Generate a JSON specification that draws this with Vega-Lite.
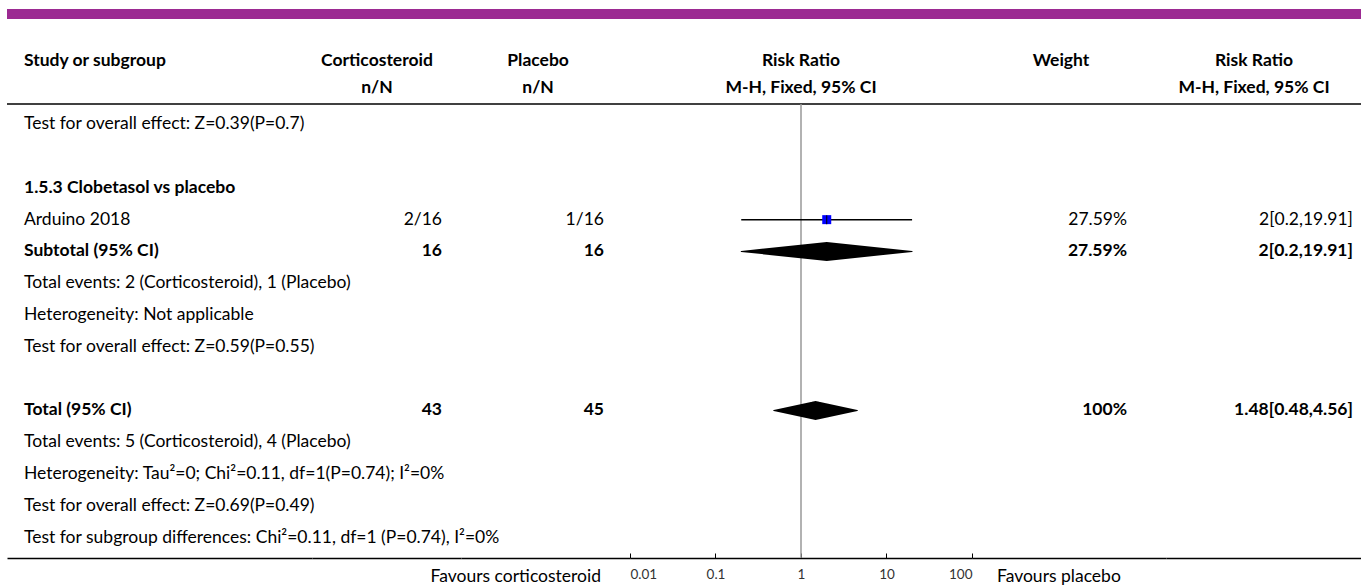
{
  "$schema": "https://vega.github.io/schema/vega-lite/v6.json",
  "padding": {"left": 6, "top": 9, "right": 0, "bottom": 0},
  "bounds": "flush",
  "spacing": 0,
  "config": {
    "view": {"stroke": null},
    "text": {"font": "Lato", "fontSize": 17.5, "color": "#000", "baseline": "middle"}
  },
  "datasets": {
    "rows": [
      {"row": 0, "type": "note", "study": "Test for overall effect: Z=0.39(P=0.7)"},
      {"row": 2, "type": "heading", "study": "1.5.3 Clobetasol vs placebo"},
      {"row": 3, "type": "study", "study": "Arduino 2018", "cortico": "2/16", "placebo": "1/16", "weight": "27.59%", "ci": "2[0.2,19.91]", "rr": 2, "lo": 0.2, "hi": 19.91},
      {"row": 4, "type": "pooled", "study": "Subtotal (95% CI)", "cortico": "16", "placebo": "16", "weight": "27.59%", "ci": "2[0.2,19.91]", "rr": 2, "lo": 0.2, "hi": 19.91},
      {"row": 5, "type": "note", "study": "Total events: 2 (Corticosteroid), 1 (Placebo)"},
      {"row": 6, "type": "note", "study": "Heterogeneity: Not applicable"},
      {"row": 7, "type": "note", "study": "Test for overall effect: Z=0.59(P=0.55)"},
      {"row": 9, "type": "pooled", "study": "Total (95% CI)", "cortico": "43", "placebo": "45", "weight": "100%", "ci": "1.48[0.48,4.56]", "rr": 1.48, "lo": 0.48, "hi": 4.56},
      {"row": 10, "type": "note", "study": "Total events: 5 (Corticosteroid), 4 (Placebo)"},
      {"row": 11, "type": "note", "study": "Heterogeneity: Tau²=0; Chi²=0.11, df=1(P=0.74); I²=0%"},
      {"row": 12, "type": "note", "study": "Test for overall effect: Z=0.69(P=0.49)"},
      {"row": 13, "type": "note", "study": "Test for subgroup differences: Chi²=0.11, df=1 (P=0.74), I²=0%"}
    ],
    "head": [
      {"row": -2, "col": "study", "label": "Study or subgroup"},
      {"row": -2, "col": "cortico", "label": "Corticosteroid"},
      {"row": -1.15, "col": "cortico", "label": "n/N"},
      {"row": -2, "col": "placebo", "label": "Placebo"},
      {"row": -1.15, "col": "placebo", "label": "n/N"},
      {"row": -2, "col": "plot", "label": "Risk Ratio"},
      {"row": -1.15, "col": "plot", "label": "M-H, Fixed, 95% CI"},
      {"row": -2, "col": "weight", "label": "Weight"},
      {"row": -2, "col": "ci", "label": "Risk Ratio"},
      {"row": -1.15, "col": "ci", "label": "M-H, Fixed, 95% CI"}
    ]
  },
  "hconcat": [
    {
      "width": 305, "height": 549,
      "layer": [
        {"data": {"values": [{}]}, "mark": {"type": "rect", "color": "#9c2a92"},
         "encoding": {"x": {"datum": 0, "type": "quantitative", "scale": {"domain": [0, 1], "nice": false, "zero": false}, "axis": {"labels": false, "ticks": false, "grid": false, "title": null, "domainColor": "#000", "domainWidth": 1.5}}, "x2": {"datum": 1},
                      "y": {"datum": -3.622, "type": "quantitative", "scale": {"domain": [-3.622, 13.637], "reverse": true, "nice": false, "zero": false}, "axis": null}, "y2": {"datum": -3.307}}},
        {"data": {"values": [{}]}, "mark": {"type": "rule", "color": "#000", "strokeWidth": 1.5},
         "encoding": {"y": {"datum": -0.635, "type": "quantitative", "scale": {"domain": [-3.622, 13.637], "reverse": true, "nice": false, "zero": false}, "axis": null}}},
        {"data": {"name": "head"}, "transform": [{"filter": "datum.col === 'study'"}],
         "mark": {"type": "text", "align": "left", "fontWeight": "bold"},
         "encoding": {"x": {"datum": 0.0557, "type": "quantitative", "scale": {"domain": [0, 1], "nice": false, "zero": false}, "axis": {"labels": false, "ticks": false, "grid": false, "title": null, "domainColor": "#000", "domainWidth": 1.5}},
                      "y": {"field": "row", "type": "quantitative", "scale": {"domain": [-3.622, 13.637], "reverse": true, "nice": false, "zero": false}, "axis": null},
                      "text": {"field": "label"}}},
        {"data": {"name": "rows"}, "transform": [{"filter": "datum.type === 'note' || datum.type === 'study'"}],
         "mark": {"type": "text", "align": "left"},
         "encoding": {"x": {"datum": 0.0557, "type": "quantitative", "scale": {"domain": [0, 1], "nice": false, "zero": false}, "axis": {"labels": false, "ticks": false, "grid": false, "title": null, "domainColor": "#000", "domainWidth": 1.5}},
                      "y": {"field": "row", "type": "quantitative", "scale": {"domain": [-3.622, 13.637], "reverse": true, "nice": false, "zero": false}, "axis": null},
                      "text": {"field": "study"}}},
        {"data": {"name": "rows"}, "transform": [{"filter": "datum.type === 'heading' || datum.type === 'pooled'"}],
         "mark": {"type": "text", "align": "left", "fontWeight": "bold"},
         "encoding": {"x": {"datum": 0.0557, "type": "quantitative", "scale": {"domain": [0, 1], "nice": false, "zero": false}, "axis": {"labels": false, "ticks": false, "grid": false, "title": null, "domainColor": "#000", "domainWidth": 1.5}},
                      "y": {"field": "row", "type": "quantitative", "scale": {"domain": [-3.622, 13.637], "reverse": true, "nice": false, "zero": false}, "axis": null},
                      "text": {"field": "study"}}}
      ]
    },
    {
      "width": 149, "height": 549,
      "layer": [
        {"data": {"values": [{}]}, "mark": {"type": "rect", "color": "#9c2a92"},
         "encoding": {"x": {"datum": 0, "type": "quantitative", "scale": {"domain": [0, 1], "nice": false, "zero": false}, "axis": {"labels": false, "ticks": false, "grid": false, "title": null, "domainColor": "#000", "domainWidth": 1.5}}, "x2": {"datum": 1},
                      "y": {"datum": -3.622, "type": "quantitative", "scale": {"domain": [-3.622, 13.637], "reverse": true, "nice": false, "zero": false}, "axis": null}, "y2": {"datum": -3.307}}},
        {"data": {"values": [{}]}, "mark": {"type": "rule", "color": "#000", "strokeWidth": 1.5},
         "encoding": {"y": {"datum": -0.635, "type": "quantitative", "scale": {"domain": [-3.622, 13.637], "reverse": true, "nice": false, "zero": false}, "axis": null}}},
        {"data": {"name": "head"}, "transform": [{"filter": "datum.col === 'cortico'"}],
         "mark": {"type": "text", "align": "center", "fontWeight": "bold"},
         "encoding": {"x": {"datum": 0.4362, "type": "quantitative", "scale": {"domain": [0, 1], "nice": false, "zero": false}, "axis": {"labels": false, "ticks": false, "grid": false, "title": null, "domainColor": "#000", "domainWidth": 1.5}},
                      "y": {"field": "row", "type": "quantitative", "scale": {"domain": [-3.622, 13.637], "reverse": true, "nice": false, "zero": false}, "axis": null},
                      "text": {"field": "label"}}},
        {"data": {"name": "rows"}, "transform": [{"filter": "datum.type === 'study'"}],
         "mark": {"type": "text", "align": "right"},
         "encoding": {"x": {"datum": 0.8725, "type": "quantitative", "scale": {"domain": [0, 1], "nice": false, "zero": false}, "axis": {"labels": false, "ticks": false, "grid": false, "title": null, "domainColor": "#000", "domainWidth": 1.5}},
                      "y": {"field": "row", "type": "quantitative", "scale": {"domain": [-3.622, 13.637], "reverse": true, "nice": false, "zero": false}, "axis": null},
                      "text": {"field": "cortico"}}},
        {"data": {"name": "rows"}, "transform": [{"filter": "datum.type === 'pooled'"}],
         "mark": {"type": "text", "align": "right", "fontWeight": "bold"},
         "encoding": {"x": {"datum": 0.8725, "type": "quantitative", "scale": {"domain": [0, 1], "nice": false, "zero": false}, "axis": {"labels": false, "ticks": false, "grid": false, "title": null, "domainColor": "#000", "domainWidth": 1.5}},
                      "y": {"field": "row", "type": "quantitative", "scale": {"domain": [-3.622, 13.637], "reverse": true, "nice": false, "zero": false}, "axis": null},
                      "text": {"field": "cortico"}}}
      ]
    },
    {
      "width": 169, "height": 549,
      "layer": [
        {"data": {"values": [{}]}, "mark": {"type": "rect", "color": "#9c2a92"},
         "encoding": {"x": {"datum": 0, "type": "quantitative", "scale": {"domain": [0, 1], "nice": false, "zero": false}, "axis": {"labels": false, "ticks": false, "grid": false, "title": null, "domainColor": "#000", "domainWidth": 1.5}}, "x2": {"datum": 1},
                      "y": {"datum": -3.622, "type": "quantitative", "scale": {"domain": [-3.622, 13.637], "reverse": true, "nice": false, "zero": false}, "axis": null}, "y2": {"datum": -3.307}}},
        {"data": {"values": [{}]}, "mark": {"type": "rule", "color": "#000", "strokeWidth": 1.5},
         "encoding": {"y": {"datum": -0.635, "type": "quantitative", "scale": {"domain": [-3.622, 13.637], "reverse": true, "nice": false, "zero": false}, "axis": null}}},
        {"data": {"name": "head"}, "transform": [{"filter": "datum.col === 'placebo'"}],
         "mark": {"type": "text", "align": "center", "fontWeight": "bold"},
         "encoding": {"x": {"datum": 0.456, "type": "quantitative", "scale": {"domain": [0, 1], "nice": false, "zero": false}, "axis": {"labels": false, "ticks": false, "grid": false, "title": null, "domainColor": "#000", "domainWidth": 1.5}},
                      "y": {"field": "row", "type": "quantitative", "scale": {"domain": [-3.622, 13.637], "reverse": true, "nice": false, "zero": false}, "axis": null},
                      "text": {"field": "label"}}},
        {"data": {"name": "rows"}, "transform": [{"filter": "datum.type === 'study'"}],
         "mark": {"type": "text", "align": "right"},
         "encoding": {"x": {"datum": 0.846, "type": "quantitative", "scale": {"domain": [0, 1], "nice": false, "zero": false}, "axis": {"labels": false, "ticks": false, "grid": false, "title": null, "domainColor": "#000", "domainWidth": 1.5}},
                      "y": {"field": "row", "type": "quantitative", "scale": {"domain": [-3.622, 13.637], "reverse": true, "nice": false, "zero": false}, "axis": null},
                      "text": {"field": "placebo"}}},
        {"data": {"name": "rows"}, "transform": [{"filter": "datum.type === 'pooled'"}],
         "mark": {"type": "text", "align": "right", "fontWeight": "bold"},
         "encoding": {"x": {"datum": 0.846, "type": "quantitative", "scale": {"domain": [0, 1], "nice": false, "zero": false}, "axis": {"labels": false, "ticks": false, "grid": false, "title": null, "domainColor": "#000", "domainWidth": 1.5}},
                      "y": {"field": "row", "type": "quantitative", "scale": {"domain": [-3.622, 13.637], "reverse": true, "nice": false, "zero": false}, "axis": null},
                      "text": {"field": "placebo"}}}
      ]
    },
    {
      "width": 342, "height": 549,
      "layer": [
        {"data": {"values": [{}]}, "mark": {"type": "rect", "color": "#9c2a92"},
         "encoding": {"x": {"datum": 0.01, "type": "quantitative", "scale": {"type": "log", "domain": [0.01, 100], "nice": false}, "axis": {"values": [0.01, 0.1, 1, 10, 100], "format": "~g", "labelFlush": true, "tickSize": -5, "labelPadding": 14, "tickColor": "#000", "domainColor": "#000", "domainWidth": 1.5, "labelFont": "Lato", "labelFontSize": 13.5, "labelColor": "#333", "grid": false, "title": null}}, "x2": {"datum": 100},
                      "y": {"datum": -3.622, "type": "quantitative", "scale": {"domain": [-3.622, 13.637], "reverse": true, "nice": false, "zero": false}, "axis": null}, "y2": {"datum": -3.307}}},
        {"data": {"values": [{}]}, "mark": {"type": "rule", "color": "#000", "strokeWidth": 1.5},
         "encoding": {"y": {"datum": -0.635, "type": "quantitative", "scale": {"domain": [-3.622, 13.637], "reverse": true, "nice": false, "zero": false}, "axis": null}}},
        {"data": {"values": [{}]}, "mark": {"type": "rule", "color": "#999", "strokeWidth": 1.5},
         "encoding": {"x": {"datum": 1, "type": "quantitative", "scale": {"type": "log", "domain": [0.01, 100], "nice": false}, "axis": {"values": [0.01, 0.1, 1, 10, 100], "format": "~g", "labelFlush": true, "tickSize": -5, "labelPadding": 14, "tickColor": "#000", "domainColor": "#000", "domainWidth": 1.5, "labelFont": "Lato", "labelFontSize": 13.5, "labelColor": "#333", "grid": false, "title": null}},
                      "y": {"datum": -0.635, "type": "quantitative", "scale": {"domain": [-3.622, 13.637], "reverse": true, "nice": false, "zero": false}, "axis": null}, "y2": {"datum": 13.637}}},
        {"data": {"name": "rows"}, "transform": [{"filter": "datum.type === 'study'"}],
         "mark": {"type": "rule", "color": "#000", "strokeWidth": 1.5},
         "encoding": {"x": {"field": "lo", "type": "quantitative", "scale": {"type": "log", "domain": [0.01, 100], "nice": false}, "axis": {"values": [0.01, 0.1, 1, 10, 100], "format": "~g", "labelFlush": true, "tickSize": -5, "labelPadding": 14, "tickColor": "#000", "domainColor": "#000", "domainWidth": 1.5, "labelFont": "Lato", "labelFontSize": 13.5, "labelColor": "#333", "grid": false, "title": null}}, "x2": {"field": "hi"},
                      "y": {"field": "row", "type": "quantitative", "scale": {"domain": [-3.622, 13.637], "reverse": true, "nice": false, "zero": false}, "axis": null}}},
        {"data": {"name": "rows"}, "transform": [{"filter": "datum.type === 'study'"}],
         "mark": {"type": "point", "shape": "square", "filled": true, "color": "#0000ff", "opacity": 1, "size": 81},
         "encoding": {"x": {"field": "rr", "type": "quantitative", "scale": {"type": "log", "domain": [0.01, 100], "nice": false}, "axis": {"values": [0.01, 0.1, 1, 10, 100], "format": "~g", "labelFlush": true, "tickSize": -5, "labelPadding": 14, "tickColor": "#000", "domainColor": "#000", "domainWidth": 1.5, "labelFont": "Lato", "labelFontSize": 13.5, "labelColor": "#333", "grid": false, "title": null}},
                      "y": {"field": "row", "type": "quantitative", "scale": {"domain": [-3.622, 13.637], "reverse": true, "nice": false, "zero": false}, "axis": null}}},
        {"data": {"name": "rows"}, "transform": [{"filter": "datum.type === 'study'"}],
         "mark": {"type": "tick", "orient": "vertical", "color": "#000", "size": 9, "thickness": 1, "opacity": 1},
         "encoding": {"x": {"field": "rr", "type": "quantitative", "scale": {"type": "log", "domain": [0.01, 100], "nice": false}, "axis": {"values": [0.01, 0.1, 1, 10, 100], "format": "~g", "labelFlush": true, "tickSize": -5, "labelPadding": 14, "tickColor": "#000", "domainColor": "#000", "domainWidth": 1.5, "labelFont": "Lato", "labelFontSize": 13.5, "labelColor": "#333", "grid": false, "title": null}},
                      "y": {"field": "row", "type": "quantitative", "scale": {"domain": [-3.622, 13.637], "reverse": true, "nice": false, "zero": false}, "axis": null}}},
        {"data": {"name": "rows"}, "transform": [{"filter": "datum.type === 'pooled'"}, {"fold": ["lo", "rr", "hi"], "as": ["pt", "val"]}],
         "mark": {"type": "trail", "color": "#000"},
         "encoding": {"x": {"field": "val", "type": "quantitative", "scale": {"type": "log", "domain": [0.01, 100], "nice": false}, "axis": {"values": [0.01, 0.1, 1, 10, 100], "format": "~g", "labelFlush": true, "tickSize": -5, "labelPadding": 14, "tickColor": "#000", "domainColor": "#000", "domainWidth": 1.5, "labelFont": "Lato", "labelFontSize": 13.5, "labelColor": "#333", "grid": false, "title": null}},
                      "y": {"field": "row", "type": "quantitative", "scale": {"domain": [-3.622, 13.637], "reverse": true, "nice": false, "zero": false}, "axis": null},
                      "detail": {"field": "row", "type": "nominal"},
                      "size": {"condition": {"test": "datum.pt === 'rr'", "value": 19}, "value": 0}}},
        {"data": {"name": "head"}, "transform": [{"filter": "datum.col === 'plot'"}],
         "mark": {"type": "text", "align": "center", "fontWeight": "bold"},
         "encoding": {"x": {"datum": 1, "type": "quantitative", "scale": {"type": "log", "domain": [0.01, 100], "nice": false}, "axis": {"values": [0.01, 0.1, 1, 10, 100], "format": "~g", "labelFlush": true, "tickSize": -5, "labelPadding": 14, "tickColor": "#000", "domainColor": "#000", "domainWidth": 1.5, "labelFont": "Lato", "labelFontSize": 13.5, "labelColor": "#333", "grid": false, "title": null}},
                      "y": {"field": "row", "type": "quantitative", "scale": {"domain": [-3.622, 13.637], "reverse": true, "nice": false, "zero": false}, "axis": null},
                      "text": {"field": "label"}}},
        {"data": {"values": [{"label": "Favours corticosteroid"}]},
         "mark": {"type": "text", "align": "right", "dx": -29},
         "encoding": {"x": {"datum": 0.01, "type": "quantitative", "scale": {"type": "log", "domain": [0.01, 100], "nice": false}, "axis": {"values": [0.01, 0.1, 1, 10, 100], "format": "~g", "labelFlush": true, "tickSize": -5, "labelPadding": 14, "tickColor": "#000", "domainColor": "#000", "domainWidth": 1.5, "labelFont": "Lato", "labelFontSize": 13.5, "labelColor": "#333", "grid": false, "title": null}},
                      "y": {"datum": 14.23, "type": "quantitative", "scale": {"domain": [-3.622, 13.637], "reverse": true, "nice": false, "zero": false}, "axis": null},
                      "text": {"field": "label"}}},
        {"data": {"values": [{"label": "Favours placebo"}]},
         "mark": {"type": "text", "align": "left", "dx": 25},
         "encoding": {"x": {"datum": 100, "type": "quantitative", "scale": {"type": "log", "domain": [0.01, 100], "nice": false}, "axis": {"values": [0.01, 0.1, 1, 10, 100], "format": "~g", "labelFlush": true, "tickSize": -5, "labelPadding": 14, "tickColor": "#000", "domainColor": "#000", "domainWidth": 1.5, "labelFont": "Lato", "labelFontSize": 13.5, "labelColor": "#333", "grid": false, "title": null}},
                      "y": {"datum": 14.23, "type": "quantitative", "scale": {"domain": [-3.622, 13.637], "reverse": true, "nice": false, "zero": false}, "axis": null},
                      "text": {"field": "label"}}}
      ]
    },
    {
      "width": 194, "height": 549,
      "layer": [
        {"data": {"values": [{}]}, "mark": {"type": "rect", "color": "#9c2a92"},
         "encoding": {"x": {"datum": 0, "type": "quantitative", "scale": {"domain": [0, 1], "nice": false, "zero": false}, "axis": {"labels": false, "ticks": false, "grid": false, "title": null, "domainColor": "#000", "domainWidth": 1.5}}, "x2": {"datum": 1},
                      "y": {"datum": -3.622, "type": "quantitative", "scale": {"domain": [-3.622, 13.637], "reverse": true, "nice": false, "zero": false}, "axis": null}, "y2": {"datum": -3.307}}},
        {"data": {"values": [{}]}, "mark": {"type": "rule", "color": "#000", "strokeWidth": 1.5},
         "encoding": {"y": {"datum": -0.635, "type": "quantitative", "scale": {"domain": [-3.622, 13.637], "reverse": true, "nice": false, "zero": false}, "axis": null}}},
        {"data": {"name": "head"}, "transform": [{"filter": "datum.col === 'weight'"}],
         "mark": {"type": "text", "align": "center", "fontWeight": "bold"},
         "encoding": {"x": {"datum": 0.459, "type": "quantitative", "scale": {"domain": [0, 1], "nice": false, "zero": false}, "axis": {"labels": false, "ticks": false, "grid": false, "title": null, "domainColor": "#000", "domainWidth": 1.5}},
                      "y": {"field": "row", "type": "quantitative", "scale": {"domain": [-3.622, 13.637], "reverse": true, "nice": false, "zero": false}, "axis": null},
                      "text": {"field": "label"}}},
        {"data": {"name": "rows"}, "transform": [{"filter": "datum.type === 'study'"}],
         "mark": {"type": "text", "align": "right"},
         "encoding": {"x": {"datum": 0.799, "type": "quantitative", "scale": {"domain": [0, 1], "nice": false, "zero": false}, "axis": {"labels": false, "ticks": false, "grid": false, "title": null, "domainColor": "#000", "domainWidth": 1.5}},
                      "y": {"field": "row", "type": "quantitative", "scale": {"domain": [-3.622, 13.637], "reverse": true, "nice": false, "zero": false}, "axis": null},
                      "text": {"field": "weight"}}},
        {"data": {"name": "rows"}, "transform": [{"filter": "datum.type === 'pooled'"}],
         "mark": {"type": "text", "align": "right", "fontWeight": "bold"},
         "encoding": {"x": {"datum": 0.799, "type": "quantitative", "scale": {"domain": [0, 1], "nice": false, "zero": false}, "axis": {"labels": false, "ticks": false, "grid": false, "title": null, "domainColor": "#000", "domainWidth": 1.5}},
                      "y": {"field": "row", "type": "quantitative", "scale": {"domain": [-3.622, 13.637], "reverse": true, "nice": false, "zero": false}, "axis": null},
                      "text": {"field": "weight"}}}
      ]
    },
    {
      "width": 196, "height": 549,
      "layer": [
        {"data": {"values": [{}]}, "mark": {"type": "rect", "color": "#9c2a92"},
         "encoding": {"x": {"datum": 0, "type": "quantitative", "scale": {"domain": [0, 1], "nice": false, "zero": false}, "axis": {"labels": false, "ticks": false, "grid": false, "title": null, "domainColor": "#000", "domainWidth": 1.5}}, "x2": {"datum": 1},
                      "y": {"datum": -3.622, "type": "quantitative", "scale": {"domain": [-3.622, 13.637], "reverse": true, "nice": false, "zero": false}, "axis": null}, "y2": {"datum": -3.307}}},
        {"data": {"values": [{}]}, "mark": {"type": "rule", "color": "#000", "strokeWidth": 1.5},
         "encoding": {"y": {"datum": -0.635, "type": "quantitative", "scale": {"domain": [-3.622, 13.637], "reverse": true, "nice": false, "zero": false}, "axis": null}}},
        {"data": {"name": "head"}, "transform": [{"filter": "datum.col === 'ci'"}],
         "mark": {"type": "text", "align": "center", "fontWeight": "bold"},
         "encoding": {"x": {"datum": 0.449, "type": "quantitative", "scale": {"domain": [0, 1], "nice": false, "zero": false}, "axis": {"labels": false, "ticks": false, "grid": false, "title": null, "domainColor": "#000", "domainWidth": 1.5}},
                      "y": {"field": "row", "type": "quantitative", "scale": {"domain": [-3.622, 13.637], "reverse": true, "nice": false, "zero": false}, "axis": null},
                      "text": {"field": "label"}}},
        {"data": {"name": "rows"}, "transform": [{"filter": "datum.type === 'study'"}],
         "mark": {"type": "text", "align": "right"},
         "encoding": {"x": {"datum": 0.954, "type": "quantitative", "scale": {"domain": [0, 1], "nice": false, "zero": false}, "axis": {"labels": false, "ticks": false, "grid": false, "title": null, "domainColor": "#000", "domainWidth": 1.5}},
                      "y": {"field": "row", "type": "quantitative", "scale": {"domain": [-3.622, 13.637], "reverse": true, "nice": false, "zero": false}, "axis": null},
                      "text": {"field": "ci"}}},
        {"data": {"name": "rows"}, "transform": [{"filter": "datum.type === 'pooled'"}],
         "mark": {"type": "text", "align": "right", "fontWeight": "bold"},
         "encoding": {"x": {"datum": 0.954, "type": "quantitative", "scale": {"domain": [0, 1], "nice": false, "zero": false}, "axis": {"labels": false, "ticks": false, "grid": false, "title": null, "domainColor": "#000", "domainWidth": 1.5}},
                      "y": {"field": "row", "type": "quantitative", "scale": {"domain": [-3.622, 13.637], "reverse": true, "nice": false, "zero": false}, "axis": null},
                      "text": {"field": "ci"}}}
      ]
    }
  ]
}
